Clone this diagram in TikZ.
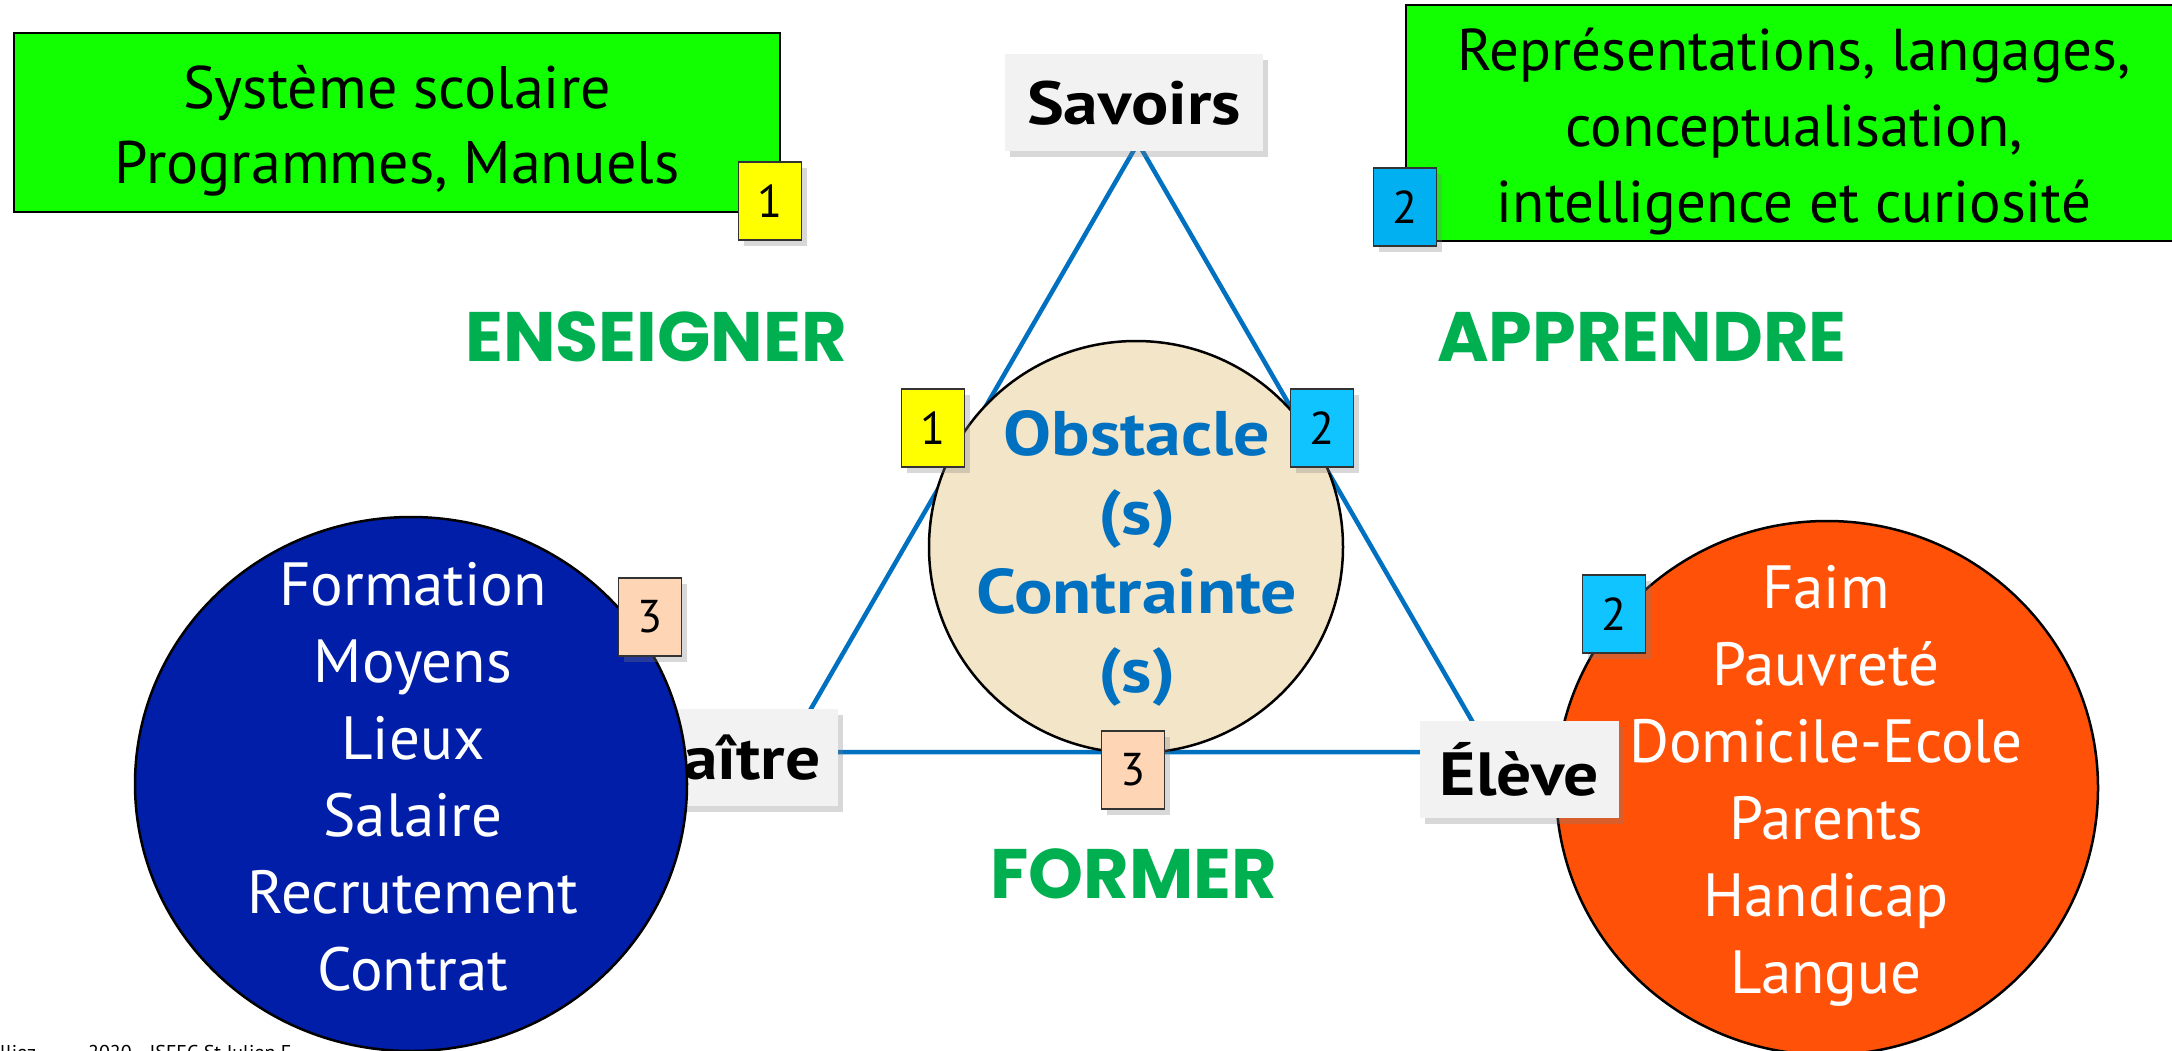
\documentclass[tikz,border=0pt]{standalone}
\usepackage{fontspec}
\setmainfont{PT Sans}
\newfontfamily\headfont{Poppins}
\newfontfamily\widebold{PT Sans Bold}[FakeStretch=1.14]
\usetikzlibrary{shapes.geometric,shadows}
\definecolor{lineblue}{RGB}{0,112,192}
\definecolor{headgreen}{RGB}{0,176,80}
\definecolor{boxgreen}{RGB}{17,255,0}
\definecolor{navyfill}{RGB}{0,30,168}
\definecolor{orangefill}{RGB}{255,82,8}
\definecolor{beigefill}{RGB}{243,229,199}
\definecolor{ybadge}{RGB}{255,255,0}
\definecolor{cbadge}{RGB}{16,196,255}
\definecolor{cbadgedark}{RGB}{0,176,240}
\definecolor{pbadge}{RGB}{255,214,181}
\definecolor{greybox}{RGB}{242,242,242}
\tikzset{
  badge/.style={draw=black!80, line width=1.5pt, minimum width=63pt, minimum height=78pt,
    inner sep=0pt, font=\fontsize{46}{46}\selectfont,
    drop shadow={shadow xshift=5pt, shadow yshift=-6pt, opacity=0.3}},
  labelbox/.style={fill=greybox, minimum height=97pt, inner sep=0pt,
    font=\widebold\fontsize{61}{61}\selectfont,
    drop shadow={shadow xshift=5pt, shadow yshift=-6pt, opacity=0.3}},
  greenbox/.style={draw=black, line width=2.5pt, fill=boxgreen, inner sep=0pt},
  verbtext/.style={text=headgreen, font=\headfont\bfseries\fontsize{70}{70}\selectfont},
  listtext/.style={text=white, align=center, font=\fontsize{61}{77}\selectfont},
  blob/.style={ellipse, draw=black, line width=2.5pt, inner sep=0pt},
  tri/.style={draw=lineblue, line width=4.5pt},
}
\begin{document}
\begin{tikzpicture}[x=1pt,y=-1pt]
\useasboundingbox (0,0) rectangle (2172,1051);
\clip (0,0) rectangle (2172,1051);
\fill[white] (0,0) rectangle (2172,1051);

% footer (mostly cut off)
\node[anchor=base west, inner sep=0pt, font=\fontsize{20}{20}\selectfont] (footer) at (0,1059) {lliez\hspace{52pt}2020 - ISFEC St Julien F};

% triangle
\coordinate (A) at (1138,143);
\coordinate (B) at (786,752);
\coordinate (C) at (1490,752);
\draw[tri] (A) -- (B) -- (C) -- cycle;

% green boxes
\node[greenbox, minimum width=766pt, minimum height=179pt] (sys) at (397,122.5) {};
\node[align=center, font=\fontsize{60}{75}\selectfont] (systext) at (397,131)
  {Système scolaire\\Programmes, Manuels};
\node[greenbox, minimum width=774pt, minimum height=236pt] (rep) at (1793,123) {};
\node[align=center, font=\fontsize{59}{76}\selectfont] (reptext) at (1794,132)
  {Représentations, langages,\\conceptualisation,\\intelligence et curiosité};
\node[badge, fill=ybadge] (b1top) at (770,201) {1};
\node[badge, fill=cbadgedark] (b2top) at (1405,207) {2};

% central circle
\node[blob, fill=beigefill, minimum width=414pt, minimum height=412pt] (obst) at (1136,547) {};
\node[align=center, text=lineblue, font=\widebold\fontsize{63}{79}\selectfont] (obsttext) at (1137,558)
  {Obstacle\\(s)\\Contrainte\\(s)};

% Maitre box and blue circle
\node[labelbox, minimum width=228pt] (maitre) at (724,757.5) {Maître};
\node[blob, fill=navyfill, minimum width=552pt, minimum height=534pt] (teach) at (411,784) {};
\node[listtext] (teachtext) at (413,777)
  {Formation\\Moyens\\Lieux\\Salaire\\Recrutement\\Contrat};
\node[badge, fill=pbadge] (b3left) at (650,617) {3};

% orange circle and Eleve box
\node[blob, fill=orangefill, minimum width=542pt, minimum height=534pt] (pupil) at (1827,788) {};
\node[listtext] (pupiltext) at (1826,786)
  {Faim\\Pauvreté\\Domicile-Ecole\\Parents\\Handicap\\Langue};
\node[labelbox, minimum width=199pt] (eleve) at (1519.5,769) {Élève};
\node[badge, fill=cbadge] (b2right) at (1614,614) {2};

% badges on triangle
\node[badge, fill=ybadge] (b1mid) at (933,428) {1};
\node[badge, fill=cbadge] (b2mid) at (1322,428) {2};
\node[badge, fill=pbadge] (b3bot) at (1133,770) {3};

% Savoirs
\node[labelbox, minimum width=258pt] (savoirs) at (1134,103) {Savoirs};

% verbs
\node[verbtext] (enseigner) at (656,337) {ENSEIGNER};
\node[verbtext] (apprendre) at (1642,337) {APPRENDRE};
\node[verbtext] (former) at (1134,874) {FORMER};
\end{tikzpicture}
\end{document}
